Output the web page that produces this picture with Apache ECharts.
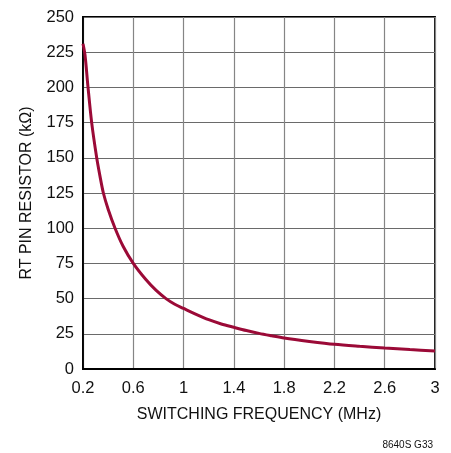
<!DOCTYPE html>
<html>
<head>
<meta charset="utf-8">
<script src="https://cdn.jsdelivr.net/npm/echarts@6/dist/echarts.min.js"></script>
<style>
html,body{margin:0;padding:0;background:#fff;}
#chart{width:451px;height:453px;}
</style>
</head>
<body>
<div id="chart"></div>
<script>
var frequency = [0.2, 0.216, 0.24, 0.269, 0.309, 0.335, 0.362, 0.40, 0.455, 0.52, 0.6, 0.7, 0.78, 0.86, 0.93, 1.0, 1.1, 1.2, 1.3, 1.4, 1.5, 1.6, 1.7, 1.8, 2.0, 2.2, 2.4, 2.6, 2.8, 3.0];
var resistor  = [231, 223, 200, 175, 150, 137, 125, 113.5, 100, 87, 75, 63.5, 56, 50, 46, 43, 38.8, 35, 32, 29.6, 27.3, 25.3, 23.6, 22, 19.6, 17.5, 16.1, 14.9, 13.8, 12.8];
var xTicks = [0.2, 0.6, 1, 1.4, 1.8, 2.2, 2.6, 3];
var xTitle = 'SWITCHING FREQUENCY (MHz)';
var yTitle = 'RT PIN RESISTOR (kΩ)';
var note = '8640S G33';

var FONT = '"Liberation Sans Narrow", "Liberation Sans", Arial, sans-serif';
var chart = echarts.init(document.getElementById('chart'));
var pts = frequency.map(function (f, i) { return [f, resistor[i]]; });
chart.setOption({
  animation: false,
  grid: { left: 83, right: 16, top: 17, bottom: 84, show: true, borderColor: '#000', borderWidth: 1.8, backgroundColor: 'transparent' },
  xAxis: {
    type: 'value', min: 0.2, max: 3,
    name: xTitle, nameLocation: 'middle', nameGap: 38,
    nameTextStyle: { fontFamily: FONT, fontSize: 16, color: '#111' },
    axisLine: { show: true, lineStyle: { color: '#000', width: 1.8 } },
    axisTick: { show: false, customValues: xTicks },
    axisLabel: { customValues: xTicks, fontFamily: FONT, fontSize: 16.5, color: '#111', margin: 11,
      formatter: function (v) { return String(Math.round(v * 10) / 10); } },
    splitLine: { show: true, lineStyle: { color: '#858585', width: 1.2 } }
  },
  yAxis: {
    type: 'value', min: 0, max: 250, interval: 25,
    name: yTitle, nameLocation: 'middle', nameGap: 48, nameRotate: 90,
    nameTextStyle: { fontFamily: FONT, fontSize: 16, color: '#111' },
    axisLine: { show: true, lineStyle: { color: '#000', width: 1.8 } },
    axisTick: { show: false },
    axisLabel: { fontFamily: FONT, fontSize: 16.5, color: '#111', margin: 9 },
    splitLine: { show: true, lineStyle: { color: '#6a6a6a', width: 1.2 } }
  },
  graphic: [{
    type: 'text', right: 18, top: 440,
    style: { text: note, fontFamily: FONT, fontSize: 10, fill: '#111' }
  }],
  series: [{
    type: 'line', data: pts, smooth: 0.3, showSymbol: false,
    lineStyle: { color: '#9b0a37', width: 3 }
  }]
});
</script>
</body>
</html>
